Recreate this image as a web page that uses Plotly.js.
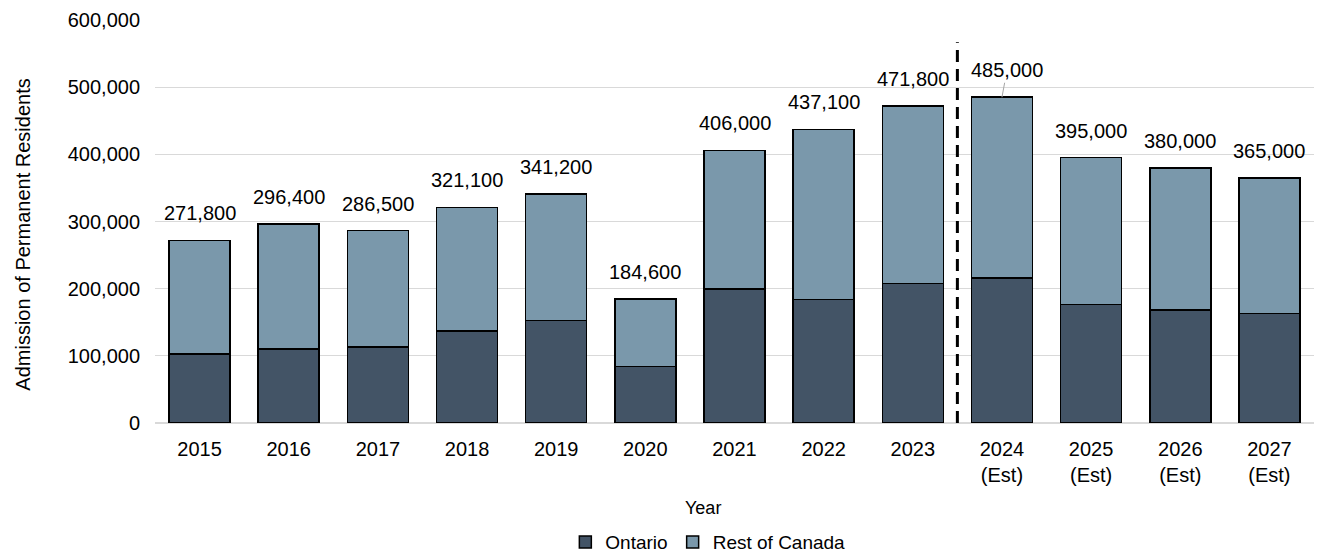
<!DOCTYPE html>
<html>
<head>
<meta charset="utf-8">
<script src="https://cdn.plot.ly/plotly-3.0.1.min.js"></script>
<style>html,body{margin:0;padding:0;background:#fff;}#chart{width:1322px;height:552px;}</style>
</head>
<body>
<div id="chart"></div>
<script>
const categories = ["2015","2016","2017","2018","2019","2020","2021","2022","2023","2024<br>(Est)","2025<br>(Est)","2026<br>(Est)","2027<br>(Est)"];
const ontario = [102400,110400,113000,136900,152800,84200,199500,184200,207500,216000,176100,168200,163300];
const restOfCanada = [169400,186000,173500,184200,188400,100400,206500,252900,264300,269000,218900,211800,201700];
const totals = [271800,296400,286500,321100,341200,184600,406000,437100,471800,485000,395000,380000,365000];
const yTicks = [0,100000,200000,300000,400000,500000,600000];
const dividerAfterIndex = 8; // last actual year (2023)

const FONT = "Liberation Sans, Arial, sans-serif";
const fmt = v => v.toLocaleString("en-US");
const idx = categories.map((c,i) => i);

const traces = [
  {type:"bar", name:"Ontario", x:idx, y:ontario,
   marker:{color:"#435466", line:{color:"#000", width:1.5}}, hoverinfo:"none"},
  {type:"bar", name:"Rest of Canada", x:idx, y:restOfCanada,
   marker:{color:"#7a98ab", line:{color:"#000", width:1.5}}, hoverinfo:"none"}
];

const annotations = totals.map((t,i) => {
  const a = {x:idx[i], y:t, xref:"x", yref:"y", text:fmt(t),
    showarrow:false, yanchor:"middle", yshift:27,
    font:{family:FONT, size:20, color:"#000"}};
  if (i === 9) {
    Object.assign(a, {showarrow:true, arrowhead:0, arrowwidth:1, arrowcolor:"#a6a6a6",
      ax:5, ay:-27, yshift:0});
  }
  return a;
});
annotations.push({xref:"paper", yref:"paper", x:0.473, y:-0.21, text:"Year", showarrow:false,
  yanchor:"middle", font:{family:FONT, size:18, color:"#000"}});
annotations.push({xref:"paper", yref:"paper", x:-0.114, y:0.467, text:"Admission of Permanent Residents",
  showarrow:false, textangle:-90, xanchor:"center", yanchor:"middle", font:{family:FONT, size:20, color:"#000"}});

const layout = {
  width:1322, height:552,
  margin:{l:155, r:8, t:20, b:129, autoexpand:false},
  paper_bgcolor:"#fff", plot_bgcolor:"#fff",
  barmode:"stack", bargap:0.316,
  font:{family:FONT, size:20, color:"#000"},
  xaxis:{type:"linear", range:[-0.5,12.5], tickvals:idx, ticktext:categories,
    showgrid:false, zeroline:false, showline:false, ticks:"", ticklabelstandoff:12,
    tickfont:{family:FONT, size:20, color:"#000"}, fixedrange:true},
  yaxis:{range:[0,600000], tickvals:yTicks, ticktext:yTicks.map(fmt), showgrid:true,
    gridcolor:"#d9d9d9", gridwidth:1.3, zeroline:true, zerolinecolor:"#d9d9d9", zerolinewidth:1.3,
    showline:false, ticks:"", ticklabelstandoff:14,
    tickfont:{family:FONT, size:20, color:"#000"}, fixedrange:true},
  showlegend:true,
  legend:{orientation:"h", x:0.477, xanchor:"center", yref:"container", y:0.018, yanchor:"middle",
    font:{family:FONT, size:19, color:"#000"}, traceorder:"normal", itemwidth:30},
  shapes:[{type:"line", xref:"x", yref:"paper", x0:dividerAfterIndex+0.5, x1:dividerAfterIndex+0.5,
    y0:0, y1:0.945, line:{color:"#000", width:3, dash:"12px,7px"}, layer:"above"}],
  annotations:annotations
};

Plotly.newPlot("chart", traces, layout, {displayModeBar:false, staticPlot:true});
</script>
</body>
</html>
